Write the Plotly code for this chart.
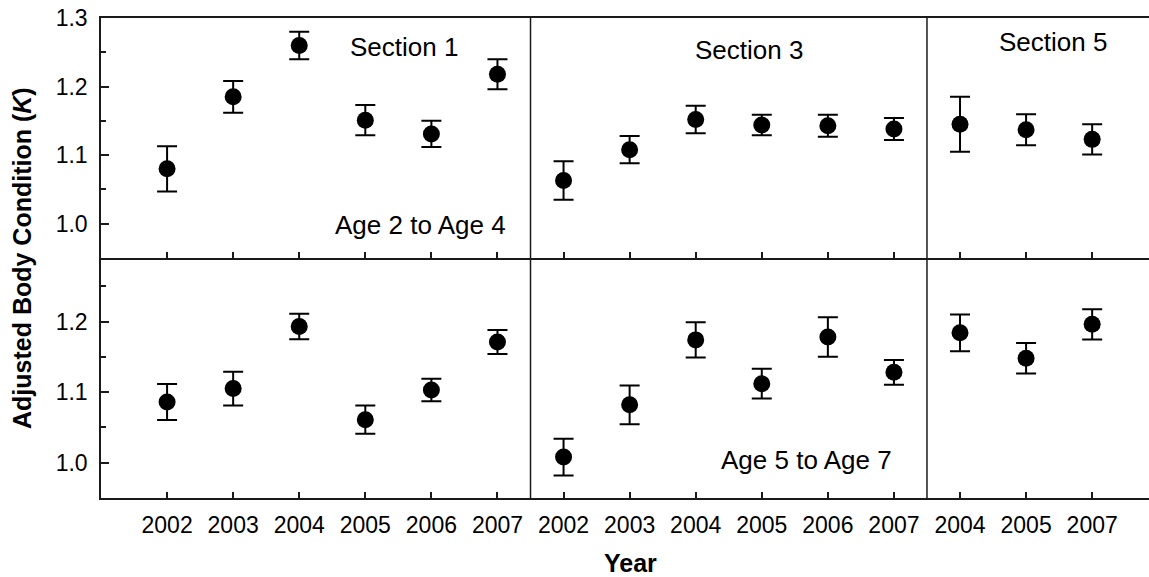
import plotly.graph_objects as go

# ---------------- data ----------------
sec1_years = ["2002", "2003", "2004", "2005", "2006", "2007"]
sec3_years = ["2002", "2003", "2004", "2005", "2006", "2007"]
sec5_years = ["2004", "2005", "2007"]

# Age 2 to Age 4 (top row)
young_sec1 = [1.080, 1.185, 1.260, 1.151, 1.131, 1.218]
young_sec1_err = [0.033, 0.023, 0.020, 0.022, 0.019, 0.022]
young_sec3 = [1.063, 1.108, 1.152, 1.144, 1.143, 1.138]
young_sec3_err = [0.028, 0.020, 0.020, 0.015, 0.016, 0.016]
young_sec5 = [1.145, 1.137, 1.123]
young_sec5_err = [0.040, 0.0225, 0.022]

# Age 5 to Age 7 (bottom row)
old_sec1 = [1.086, 1.105, 1.193, 1.061, 1.103, 1.171]
old_sec1_err = [0.0255, 0.024, 0.018, 0.020, 0.016, 0.017]
old_sec3 = [1.008, 1.082, 1.174, 1.112, 1.178, 1.128]
old_sec3_err = [0.026, 0.0275, 0.025, 0.021, 0.028, 0.0175]
old_sec5 = [1.184, 1.148, 1.196]
old_sec5_err = [0.026, 0.0215, 0.0215]

section_names = ["Section 1", "Section 3", "Section 5"]
row_labels = ["Age 2 to Age 4", "Age 5 to Age 7"]

# ---------------- layout helpers ----------------
sections = [sec1_years, sec3_years, sec5_years]
positions = []
start = 1
for yrs in sections:
    positions.append(list(range(start, start + len(yrs))))
    start += len(yrs)
all_pos = [p for ps in positions for p in ps]
all_text = [y for yrs in sections for y in yrs]
dividers = [positions[0][-1] + 0.5, positions[1][-1] + 0.5]

FONT = "Liberation Sans, Arial, sans-serif"
LINE = "#1a1a1a"

fig = go.Figure()

rows = [
    ("x2", "y2", [young_sec1, young_sec3, young_sec5], [young_sec1_err, young_sec3_err, young_sec5_err]),
    ("x", "y", [old_sec1, old_sec3, old_sec5], [old_sec1_err, old_sec3_err, old_sec5_err]),
]
for xa, ya, vals, errs in rows:
    for pos, v, e in zip(positions, vals, errs):
        fig.add_trace(go.Scatter(
            x=pos, y=v, mode="markers", xaxis=xa, yaxis=ya,
            marker=dict(symbol="circle", size=17, color="black"),
            error_y=dict(type="data", array=e, visible=True, color="black",
                         thickness=2, width=10),
            showlegend=False,
        ))

xrange = [0, 15.86]
common_x = dict(range=xrange, showline=True, linecolor=LINE, linewidth=1.5,
                ticks="inside", ticklen=6, tickwidth=1.5, tickcolor=LINE,
                tickvals=all_pos, ticktext=all_text, showgrid=False,
                zeroline=False, tickfont=dict(family=FONT, size=23, color="black"),
                ticklabelstandoff=6)
common_y = dict(showline=True, linecolor=LINE, linewidth=1.5, ticks="inside",
                ticklen=8, tickwidth=1.5, tickcolor=LINE, showgrid=False,
                zeroline=False, dtick=0.1, tick0=1.0, tickformat=".1f",
                tickfont=dict(family=FONT, size=23, color="black"),
                minor=dict(ticks="inside", ticklen=5, tickwidth=1.5,
                           tickcolor=LINE, dtick=0.05, tick0=0.95, showgrid=False),
                ticklabelstandoff=7)

fig.update_layout(
    width=1149, height=577,
    margin=dict(l=101, r=0, t=18, b=79),
    plot_bgcolor="white", paper_bgcolor="white",
    xaxis=dict(**common_x, anchor="y", domain=[0, 1]),
    xaxis2=dict(**common_x, anchor="y2", matches="x", showticklabels=False,
                mirror=True),
    yaxis=dict(**common_y, domain=[0, 0.5], range=[0.95, 1.29], anchor="x"),
    yaxis2=dict(**common_y, domain=[0.5, 1], range=[0.95, 1.30], anchor="x2"),
)

for d in dividers:
    fig.add_shape(type="line", xref="x", yref="paper", x0=d, x1=d, y0=0, y1=1,
                  line=dict(color=LINE, width=1.5))

ann_font = dict(family=FONT, size=26, color="black")
sec_pos = [(4.59, 1.257), (9.80, 1.254), (14.40, 1.2646)]
for name, (xp, yp) in zip(section_names, sec_pos):
    fig.add_annotation(x=xp, y=yp, xref="x2", yref="y2", text=name,
                       showarrow=False, font=ann_font)
fig.add_annotation(x=4.84, y=0.9975, xref="x2", yref="y2", text=row_labels[0],
                   showarrow=False, font=ann_font)
fig.add_annotation(x=10.67, y=1.0037, xref="x", yref="y", text=row_labels[1],
                   showarrow=False, font=ann_font)

fig.add_annotation(x=-0.0754, y=0.5, xref="paper", yref="paper",
                   text="<b>Adjusted Body Condition (<i>K</i>)</b>",
                   textangle=-90, showarrow=False,
                   font=dict(family=FONT, size=25, color="black"),
                   xanchor="center", yanchor="middle")
fig.add_annotation(x=0.5048, y=-0.1354, xref="paper", yref="paper",
                   text="<b>Year</b>", showarrow=False,
                   font=dict(family=FONT, size=25, color="black"),
                   xanchor="center", yanchor="middle")

fig.write_html("out.html")
